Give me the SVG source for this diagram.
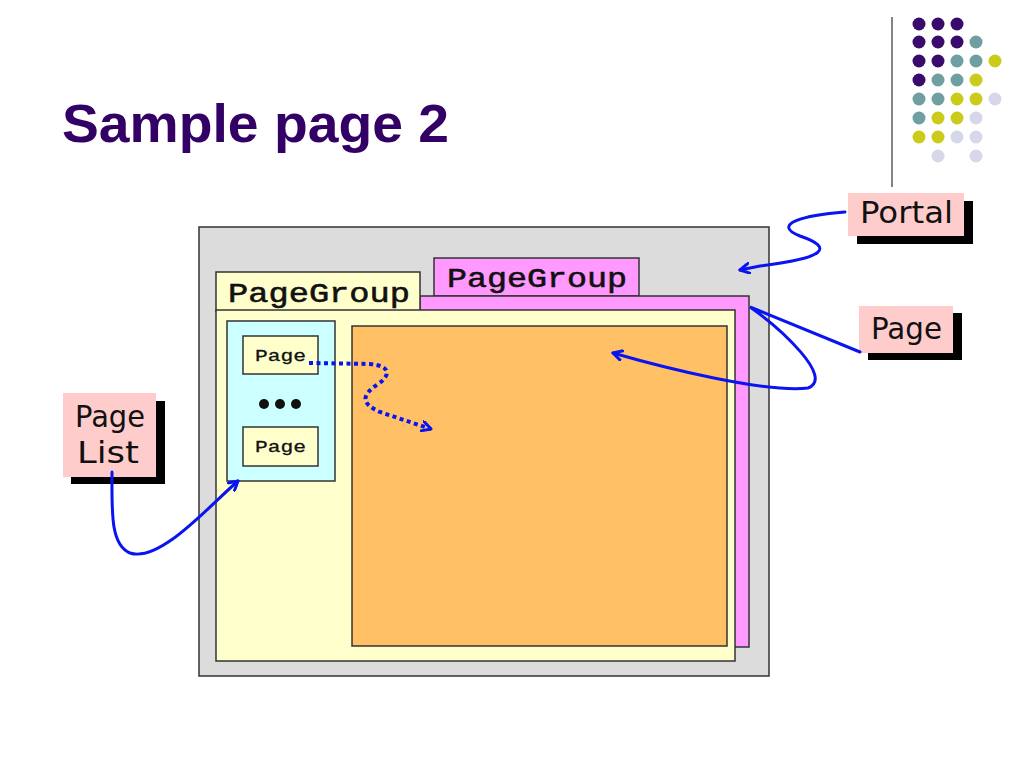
<svg xmlns="http://www.w3.org/2000/svg" width="1024" height="768" viewBox="0 0 1024 768">
<style>
.box{stroke:#333;stroke-width:1.5}
.mono{font-family:"Liberation Mono","Courier New",monospace;fill:#111}
.call{font-family:"Comic Sans MS","DejaVu Sans",sans-serif;font-size:30px;fill:#111}
.conn{fill:none;stroke:#0a14f0;stroke-width:3;stroke-linecap:round}
.dp{fill:#3a0a6c}.dt{fill:#6f9fa0}.dy{fill:#cbcb1c}.dl{fill:#d7d7ea}
</style>
<defs>
<marker id="ah" markerWidth="12" markerHeight="12" refX="10" refY="6" orient="auto" markerUnits="userSpaceOnUse">
<path d="M1,1 L10,6 L1,11" fill="none" stroke="#0a14f0" stroke-width="3" stroke-linecap="round" stroke-linejoin="round"/>
</marker>
</defs>
<rect width="1024" height="768" fill="#fff"/>
<g id="decor">
<line x1="892" y1="17" x2="892" y2="187" stroke="#333" stroke-width="1.2"/>
<g>
<circle class="dp" cx="919" cy="24" r="6.5"/><circle class="dp" cx="938" cy="24" r="6.5"/><circle class="dp" cx="957" cy="24" r="6.5"/>
<circle class="dp" cx="919" cy="42" r="6.5"/><circle class="dp" cx="938" cy="42" r="6.5"/><circle class="dp" cx="957" cy="42" r="6.5"/><circle class="dt" cx="976" cy="42" r="6.5"/>
<circle class="dp" cx="919" cy="61" r="6.5"/><circle class="dp" cx="938" cy="61" r="6.5"/><circle class="dt" cx="957" cy="61" r="6.5"/><circle class="dt" cx="976" cy="61" r="6.5"/><circle class="dy" cx="995" cy="61" r="6.5"/>
<circle class="dp" cx="919" cy="80" r="6.5"/><circle class="dt" cx="938" cy="80" r="6.5"/><circle class="dt" cx="957" cy="80" r="6.5"/><circle class="dy" cx="976" cy="80" r="6.5"/>
<circle class="dt" cx="919" cy="99" r="6.5"/><circle class="dt" cx="938" cy="99" r="6.5"/><circle class="dy" cx="957" cy="99" r="6.5"/><circle class="dy" cx="976" cy="99" r="6.5"/><circle class="dl" cx="995" cy="99" r="6.5"/>
<circle class="dt" cx="919" cy="118" r="6.5"/><circle class="dy" cx="938" cy="118" r="6.5"/><circle class="dy" cx="957" cy="118" r="6.5"/><circle class="dl" cx="976" cy="118" r="6.5"/>
<circle class="dy" cx="919" cy="137" r="6.5"/><circle class="dy" cx="938" cy="137" r="6.5"/><circle class="dl" cx="957" cy="137" r="6.5"/><circle class="dl" cx="976" cy="137" r="6.5"/>
<circle class="dl" cx="938" cy="156" r="6.5"/><circle class="dl" cx="976" cy="156" r="6.5"/>
</g>
</g>
<text x="62" y="142" font-family="Liberation Sans,Arial,sans-serif" font-weight="bold" font-size="54" fill="#330066" textLength="387" lengthAdjust="spacingAndGlyphs">Sample page 2</text>
<g id="portal-box">
<rect class="box" x="199" y="227" width="570" height="449" fill="#dcdcdc"/>
</g>
<g id="pagegroup-back">
<rect class="box" x="434" y="258" width="205" height="38" fill="#ff99ff"/>
<rect class="box" x="420" y="296" width="329" height="351" fill="#ff99ff"/>
<text class="mono" x="447" y="287" font-size="28" textLength="180" lengthAdjust="spacingAndGlyphs" stroke="#111" stroke-width="0.6">PageGroup</text>
</g>
<g id="pagegroup-front">
<rect class="box" x="216" y="272" width="204" height="39" fill="#ffffcc"/>
<rect class="box" x="216" y="310" width="519" height="351" fill="#ffffcc"/>
<text class="mono" x="228" y="302" font-size="28" textLength="182" lengthAdjust="spacingAndGlyphs" stroke="#111" stroke-width="0.6">PageGroup</text>
</g>
<g id="page-area">
<rect class="box" x="352" y="326" width="375" height="320" fill="#ffc066"/>
</g>
<g id="page-list">
<rect class="box" x="227" y="321" width="108" height="160" fill="#ccffff"/>
<rect class="box" x="243" y="336" width="75" height="38" fill="#ffffcc"/>
<text class="mono" x="255" y="361" font-size="16" textLength="51" lengthAdjust="spacingAndGlyphs" stroke="#111" stroke-width="0.3">Page</text>
<circle cx="264" cy="404" r="5" fill="#111"/><circle cx="280" cy="404" r="5" fill="#111"/><circle cx="296" cy="404" r="5" fill="#111"/>
<rect class="box" x="243" y="427" width="75" height="39" fill="#ffffcc"/>
<text class="mono" x="255" y="452" font-size="16" textLength="51" lengthAdjust="spacingAndGlyphs" stroke="#111" stroke-width="0.3">Page</text>
</g>
<g id="callout-portal">
<rect x="857" y="201" width="116" height="43" fill="#000"/>
<rect x="848" y="193" width="116" height="43" fill="#ffcccc"/>
<text class="call" x="860" y="223" textLength="93" lengthAdjust="spacingAndGlyphs">Portal</text>
</g>
<g id="callout-page">
<rect x="868" y="313" width="94" height="47" fill="#000"/>
<rect x="859" y="306" width="94" height="47" fill="#ffcccc"/>
<text class="call" x="871" y="339" textLength="71" lengthAdjust="spacingAndGlyphs">Page</text>
</g>
<g id="callout-pagelist">
<rect x="71" y="401" width="94" height="83" fill="#000"/>
<rect x="63" y="393" width="93" height="84" fill="#ffcccc"/>
<text class="call" x="75" y="427" textLength="70" lengthAdjust="spacingAndGlyphs">Page</text>
<text class="call" x="77" y="463" textLength="62" lengthAdjust="spacingAndGlyphs">List</text>
</g>
<g id="connectors">
<path class="conn" d="M845,212 C805,215 770,224 800,236 C835,248 825,258 760,266 L740,270" marker-end="url(#ah)"/>
<path class="conn" d="M860,352 L750,307 C780,328 835,378 808,388 C765,393 665,368 613,353" marker-end="url(#ah)"/>
<path d="M309,363 L370,364 C392,366 390,376 378,384 C360,396 362,404 380,412 L431,429" fill="none" stroke="#0a14f0" stroke-width="4" stroke-dasharray="4 3.5" marker-end="url(#ah)"/>
<path class="conn" d="M112,472 C112,510 110,545 130,553 C160,563 210,505 238,481" marker-end="url(#ah)"/>
</g>
</svg>
